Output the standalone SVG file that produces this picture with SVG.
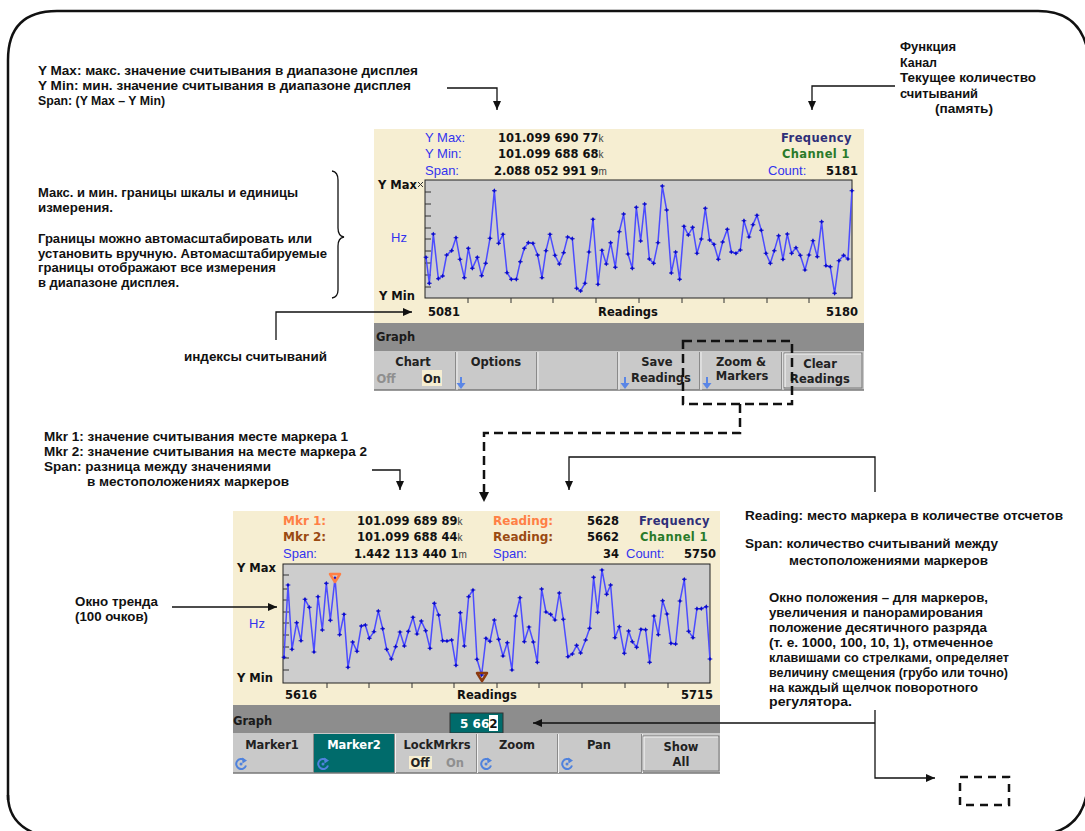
<svg xmlns="http://www.w3.org/2000/svg" width="1085" height="831" viewBox="0 0 1085 831">
<style>
.ann{font-family:"Liberation Sans",Arial,sans-serif;font-weight:bold;font-size:12px;fill:#111}
.sk{font-family:"DejaVu Sans",Verdana,sans-serif;font-weight:bold;font-size:11.5px;fill:#222;text-anchor:middle}
.val{font-family:"DejaVu Sans",Verdana,sans-serif;font-weight:bold;font-size:11.5px;fill:#111}
.lbl{font-family:"Liberation Sans",Arial,sans-serif;font-size:13px;fill:#3333ee}
.ord{font-family:"DejaVu Sans",Verdana,sans-serif;font-weight:bold;font-size:11.5px;fill:#111}
.suf{font-family:"Liberation Sans",Arial,sans-serif;font-size:10px;font-weight:normal;fill:#444}
.cream{fill:#f6eed2}
.plot{fill:#cdcdcd;stroke:#222;stroke-width:1}
.bar{fill:#8d8d8d}
.keys{fill:#c9c9c9}
.line{fill:none;stroke:#111;stroke-width:1.3}
.dash{fill:none;stroke:#111;stroke-width:2.5;stroke-dasharray:9 5}
.trace{fill:none;stroke:#4c4cff;stroke-width:4.5;stroke-linejoin:round;marker-start:url(#pt);marker-mid:url(#pt);marker-end:url(#pt)}
.tick{stroke:#333;stroke-width:1}
</style>
<defs>
<marker id="ah" markerUnits="userSpaceOnUse" markerWidth="10" markerHeight="10" refX="9" refY="5" viewBox="0 0 10 10" orient="auto">
<path d="M0,1 L9,5 L0,9 Z" fill="#111"/>
</marker>
<marker id="pt" markerUnits="userSpaceOnUse" markerWidth="16" markerHeight="16" refX="8" refY="8" viewBox="0 0 16 16">
<path d="M8,1 L12.5,8 L8,15 L3.5,8 Z M1,6.5 L15,6.5 L15,9.5 L1,9.5 Z" fill="#0a0acc"/>
</marker>
<g id="knob">
<path d="M3.5,-3.8 A5,5 0 1,0 5,1.5" fill="none" stroke="#4f82dd" stroke-width="2"/>
<path d="M1,-6.5 L6,-3.5 L1.5,-0.5 Z" fill="#4f82dd"/>
<circle cx="0" cy="0" r="1.5" fill="#4f82dd"/>
</g>
<g id="down">
<path d="M0,-9 L0,0" stroke="#5a86e6" stroke-width="2"/>
<path d="M-4.5,-3 L4.5,-3 L0,3 Z" fill="#5a86e6"/>
</g>
</defs>

<rect width="1085" height="831" fill="#ffffff"/>

<!-- outer frame -->
<g id="frame" fill="none" stroke="#111" stroke-width="2.5">
<path d="M8,800 L8,60 Q8,11 57,11 L1038,11 Q1078,11 1087,48"/>
<path d="M8,795 Q8,822 34,833"/>
<path d="M1087,792 Q1082,825 1052,833"/>
</g>

<!-- Screen 1 -->
<g id="screen1">
<rect class="cream" x="374" y="129" width="490" height="194"/>
<text class="lbl" x="425" y="142">Y Max:</text>
<text class="lbl" x="425" y="158">Y Min:</text>
<text class="lbl" x="425" y="175">Span:</text>
<text class="val" x="498" y="142">101.099 690 77<tspan class="suf">k</tspan></text>
<text class="val" x="498" y="158">101.099 688 68<tspan class="suf">k</tspan></text>
<text class="val" x="494" y="175">2.088 052 991 9<tspan class="suf">m</tspan></text>
<text class="val" x="852" y="142" text-anchor="end" style="fill:#2e2e78;letter-spacing:0.4px">Frequency</text>
<text class="val" x="850" y="158" text-anchor="end" style="fill:#2a7a2a;letter-spacing:0.4px">Channel 1</text>
<text class="lbl" x="768" y="175">Count:</text>
<text class="val" x="858" y="175" text-anchor="end">5181</text>
<rect class="plot" x="425" y="180" width="427" height="118"/>
<g class="tick">
<path d="M425,192 h6 M425,204 h6 M425,216 h6 M425,228 h6 M425,239 h6 M425,251 h6 M425,263 h6 M425,275 h6 M425,287 h6"/>
<path d="M468,298 v5 M511,298 v5 M553,298 v5 M596,298 v5 M639,298 v5 M682,298 v5 M724,298 v5 M767,298 v5 M809,298 v5"/>
<path d="M418,182 l5,5 M423,182 l-5,5"/>
</g>
<polyline class="trace" transform="matrix(0.3333 0 0 0.3333 370 180)" points="168,232 178,310 190,162 205,296 218,288 230,225 245,212 258,173 270,238 283,293 295,205 307,265 322,232 335,287 347,250 360,175 373,32 386,190 399,163 411,278 424,298 439,298 451,245 463,205 475,188 489,190 503,225 516,293 528,212 540,163 555,226 568,252 581,218 593,171 607,176 620,325 632,333 645,310 657,216 669,118 684,313 696,211 709,252 722,188 736,262 748,155 761,102 774,222 787,265 799,82 812,183 824,72 838,237 851,250 864,188 877,18 890,90 904,279 917,216 929,298 942,139 955,165 968,142 981,220 994,177 1006,85 1019,180 1032,193 1045,238 1058,186 1072,148 1084,216 1098,220 1111,210 1122,122 1137,171 1149,134 1161,106 1174,151 1188,220 1201,250 1213,212 1226,167 1239,238 1252,162 1265,220 1278,203 1291,226 1305,270 1317,225 1329,182 1342,230 1355,125 1368,257 1381,260 1394,340 1407,242 1421,226 1434,237 1446,32"/>
<text class="ord" x="378" y="189">Y Max</text>
<text class="ord" x="379" y="300">Y Min</text>
<text class="lbl" x="391" y="242">Hz</text>
<text class="ord" x="428" y="316">5081</text>
<text class="ord" x="628" y="316" text-anchor="middle">Readings</text>
<text class="ord" x="858" y="316" text-anchor="end">5180</text>
<rect class="bar" x="374" y="323" width="490" height="28"/>
<text class="ord" x="376" y="341" style="fill:#1a1a1a">Graph</text>
<rect class="keys" x="374" y="351" width="490" height="39"/>
<path d="M374,390 H864" stroke="#777" stroke-width="1.5"/>
<g stroke-width="1">
<path d="M455.5,352 V390 M536.5,352 V390 M617.5,352 V390 M699.5,352 V390 M781.5,352 V390" stroke="#8a8a8a"/>
<path d="M457,352 V390 M538,352 V390 M619,352 V390 M701,352 V390 M783,352 V390" stroke="#f2f2f2"/>
</g>
<rect x="784" y="353" width="78" height="35" fill="#c9c9c9" stroke="#777" stroke-width="1"/>
<path d="M785,387 V354 H861" fill="none" stroke="#f4f4f4" stroke-width="1.2"/>
<text class="sk" x="413" y="366">Chart</text>
<text class="sk" x="386" y="383" style="fill:#8f8f8f">Off</text>
<rect x="422" y="370" width="20" height="16" fill="#f6eed2"/>
<text class="sk" x="432" y="383">On</text>
<text class="sk" x="496" y="366">Options</text>
<use href="#down" x="461" y="386"/>
<text class="sk" x="657" y="366">Save</text>
<text class="sk" x="661" y="382">Readings</text>
<use href="#down" x="625" y="386"/>
<text class="sk" x="741" y="366">Zoom &amp;</text>
<text class="sk" x="742" y="380">Markers</text>
<use href="#down" x="707" y="386"/>
<text class="sk" x="820" y="368">Clear</text>
<text class="sk" x="820" y="383">Readings</text>
</g>

<!-- Screen 2 -->
<g id="screen2">
<rect class="cream" x="233" y="511" width="487" height="194"/>
<text class="val" x="283" y="525" style="fill:#ff7f45;font-size:12px">Mkr 1:</text>
<text class="val" x="283" y="541" style="fill:#9a4a12;font-size:12px">Mkr 2:</text>
<text class="lbl" x="283" y="558">Span:</text>
<text class="val" x="357" y="525">101.099 689 89<tspan class="suf">k</tspan></text>
<text class="val" x="357" y="541">101.099 688 44<tspan class="suf">k</tspan></text>
<text class="val" x="354" y="558">1.442 113 440 1<tspan class="suf">m</tspan></text>
<text class="val" x="493" y="525" style="fill:#ff7f45;font-size:12px">Reading:</text>
<text class="val" x="493" y="541" style="fill:#9a4a12;font-size:12px">Reading:</text>
<text class="lbl" x="493" y="558">Span:</text>
<text class="val" x="619" y="525" text-anchor="end">5628</text>
<text class="val" x="619" y="541" text-anchor="end">5662</text>
<text class="val" x="619" y="558" text-anchor="end">34</text>
<text class="val" x="710" y="525" text-anchor="end" style="fill:#2e2e78;letter-spacing:0.4px">Frequency</text>
<text class="val" x="708" y="541" text-anchor="end" style="fill:#2a7a2a;letter-spacing:0.4px">Channel 1</text>
<text class="lbl" x="626" y="558">Count:</text>
<text class="val" x="716" y="558" text-anchor="end">5750</text>
<rect class="plot" x="283" y="564" width="427" height="119"/>
<g class="tick">
<path d="M283,575 h6 M283,589 h6 M283,600 h6 M283,612 h6 M283,623 h6 M283,635 h6 M283,647 h6 M283,658 h6 M283,670 h6"/>
<path d="M327,683 v5 M369,683 v5 M412,683 v5 M454,683 v5 M497,683 v5 M539,683 v5 M582,683 v5 M625,683 v5 M668,683 v5"/>
</g>
<polyline class="trace" transform="matrix(0.3333 0 0 0.3333 230 560)" points="162,292 174,75 186,268 200,188 213,242 225,118 238,142 252,276 264,110 277,210 289,70 301,181 315,55 329,224 342,163 354,322 368,246 381,274 394,198 406,195 418,235 432,215 445,153 458,206 470,268 484,297 497,260 510,216 523,258 535,214 549,172 561,222 574,183 587,212 600,265 613,130 626,165 638,242 651,243 665,240 678,316 691,158 703,258 716,110 729,90 741,298 755,345 768,235 780,244 793,180 806,238 819,288 832,248 846,330 857,168 870,113 883,245 897,201 910,246 922,307 935,87 948,156 962,163 975,180 988,99 1000,178 1014,290 1027,282 1040,256 1052,279 1067,240 1079,205 1091,52 1103,157 1116,30 1130,103 1142,75 1155,233 1168,200 1183,280 1196,213 1207,245 1220,262 1233,208 1247,209 1259,307 1272,168 1285,224 1298,122 1311,162 1323,250 1337,252 1350,123 1363,58 1376,214 1389,233 1401,146 1414,146 1429,140 1440,297"/>
<path d="M330,574 L340,574 L335,582 Z" fill="none" stroke="#ff7f45" stroke-width="2.5" stroke-linejoin="round"/>
<path d="M477,673 L487,673 L482,681 Z" fill="none" stroke="#8b3a0f" stroke-width="2.5" stroke-linejoin="round"/>
<text class="ord" x="237" y="572">Y Max</text>
<text class="ord" x="237" y="682">Y Min</text>
<text class="lbl" x="249" y="628">Hz</text>
<text class="ord" x="285" y="699">5616</text>
<text class="ord" x="487" y="699" text-anchor="middle">Readings</text>
<text class="ord" x="713" y="699" text-anchor="end">5715</text>
<rect class="bar" x="233" y="705" width="487" height="28"/>
<text class="ord" x="233" y="725" style="fill:#1a1a1a">Graph</text>
<rect x="450" y="713" width="53" height="20" fill="#006b6b" stroke="#333" stroke-width="1"/>
<rect x="489" y="715" width="9" height="16" fill="#ffffff"/>
<text class="val" x="460" y="728" style="fill:#ffffff;font-size:12px">5 66<tspan style="fill:#111">2</tspan></text>
<rect class="keys" x="233" y="733" width="487" height="40"/>
<rect x="314" y="734" width="80" height="39" fill="#006b6b"/>
<path d="M233,773 H720" stroke="#777" stroke-width="1.5"/>
<g stroke-width="1">
<path d="M313.5,734 V773 M394.5,734 V773 M476.5,734 V773 M557.5,734 V773 M641.5,734 V773" stroke="#8a8a8a"/>
<path d="M395.5,734 V773 M477.5,734 V773 M558.5,734 V773 M642.5,734 V773" stroke="#f2f2f2"/>
</g>
<rect x="643" y="736" width="76" height="35" fill="#c9c9c9" stroke="#777" stroke-width="1"/>
<path d="M644,770 V737 H718" fill="none" stroke="#f4f4f4" stroke-width="1.2"/>
<text class="sk" x="272" y="749">Marker1</text>
<use href="#knob" x="241" y="764"/>
<text class="sk" x="354" y="749" style="fill:#ffffff">Marker2</text>
<use href="#knob" x="323" y="764"/>
<text class="sk" x="437" y="749">LockMrkrs</text>
<rect x="409" y="756" width="23" height="13" fill="#f6eed2"/>
<text class="sk" x="420" y="767">Off</text>
<text class="sk" x="455" y="767" style="fill:#8f8f8f">On</text>
<text class="sk" x="517" y="749">Zoom</text>
<use href="#knob" x="486" y="764"/>
<text class="sk" x="599" y="749">Pan</text>
<use href="#knob" x="567" y="764"/>
<text class="sk" x="681" y="751">Show</text>
<text class="sk" x="681" y="766">All</text>
</g>

<!-- Annotations -->
<g id="ann-top-left">
<text class="ann" x="38" y="75" textLength="380" lengthAdjust="spacingAndGlyphs">Y Max: макс. значение считывания в диапазоне дисплея</text>
<text class="ann" x="38" y="90" textLength="373" lengthAdjust="spacingAndGlyphs">Y Min: мин. значение считывания в диапазоне дисплея</text>
<text class="ann" x="38" y="105" textLength="127" lengthAdjust="spacingAndGlyphs">Span: (Y Max – Y Min)</text>
</g>
<g id="ann-top-right">
<text class="ann" x="900" y="51" textLength="56" lengthAdjust="spacingAndGlyphs">Функция</text>
<text class="ann" x="900" y="67" textLength="37" lengthAdjust="spacingAndGlyphs">Канал</text>
<text class="ann" x="900" y="82" textLength="136" lengthAdjust="spacingAndGlyphs">Текущее количество</text>
<text class="ann" x="900" y="98" textLength="78" lengthAdjust="spacingAndGlyphs">считываний</text>
<text class="ann" x="935" y="113" textLength="58" lengthAdjust="spacingAndGlyphs">(память)</text>
</g>
<g id="ann-scale">
<text class="ann" x="38" y="197" textLength="260" lengthAdjust="spacingAndGlyphs">Макс. и мин. границы шкалы и единицы</text>
<text class="ann" x="38" y="212" textLength="75" lengthAdjust="spacingAndGlyphs">измерения.</text>
<text class="ann" x="38" y="243" textLength="274" lengthAdjust="spacingAndGlyphs">Границы можно автомасштабировать или</text>
<text class="ann" x="38" y="258" textLength="289" lengthAdjust="spacingAndGlyphs">установить вручную. Автомасштабируемые</text>
<text class="ann" x="38" y="272" textLength="238" lengthAdjust="spacingAndGlyphs">границы отображают все измерения</text>
<text class="ann" x="38" y="287" textLength="141" lengthAdjust="spacingAndGlyphs">в диапазоне дисплея.</text>
<path d="M332,171 Q338,172 338,180 L338,228 Q338,236 344,237 Q338,238 338,246 L338,290 Q338,297 332,298" fill="none" stroke="#111" stroke-width="1.3"/>
</g>
<g id="ann-index">
<text class="ann" x="184" y="361" textLength="143" lengthAdjust="spacingAndGlyphs">индексы считываний</text>
</g>
<g id="ann-markers">
<text class="ann" x="44" y="441" textLength="304" lengthAdjust="spacingAndGlyphs">Mkr 1: значение считывания месте маркера 1</text>
<text class="ann" x="44" y="456" textLength="323" lengthAdjust="spacingAndGlyphs">Mkr 2: значение считывания на месте маркера 2</text>
<text class="ann" x="44" y="471" textLength="227" lengthAdjust="spacingAndGlyphs">Span: разница между значениями</text>
<text class="ann" x="87" y="486" textLength="202" lengthAdjust="spacingAndGlyphs">в местоположениях маркеров</text>
</g>
<g id="ann-trend">
<text class="ann" x="75" y="606" textLength="83" lengthAdjust="spacingAndGlyphs">Окно тренда</text>
<text class="ann" x="75" y="621" textLength="73" lengthAdjust="spacingAndGlyphs">(100 очков)</text>
</g>
<g id="ann-reading">
<text class="ann" x="745" y="520" textLength="318" lengthAdjust="spacingAndGlyphs">Reading: место маркера в количестве отсчетов</text>
<text class="ann" x="745" y="548" textLength="253" lengthAdjust="spacingAndGlyphs">Span: количество считываний между</text>
<text class="ann" x="789" y="565" textLength="199" lengthAdjust="spacingAndGlyphs">местоположениями маркеров</text>
</g>
<g id="ann-position">
<text class="ann" x="769" y="602" textLength="219" lengthAdjust="spacingAndGlyphs">Окно положения – для маркеров,</text>
<text class="ann" x="769" y="617" textLength="214" lengthAdjust="spacingAndGlyphs">увеличения и панорамирования</text>
<text class="ann" x="769" y="632" textLength="218" lengthAdjust="spacingAndGlyphs">положение десятичного разряда</text>
<text class="ann" x="769" y="647" textLength="224" lengthAdjust="spacingAndGlyphs">(т. е. 1000, 100, 10, 1), отмеченное</text>
<text class="ann" x="769" y="662" textLength="240" lengthAdjust="spacingAndGlyphs">клавишами со стрелками, определяет</text>
<text class="ann" x="769" y="677" textLength="239" lengthAdjust="spacingAndGlyphs">величину смещения (грубо или точно)</text>
<text class="ann" x="769" y="692" textLength="209" lengthAdjust="spacingAndGlyphs">на каждый щелчок поворотного</text>
<text class="ann" x="769" y="706" textLength="83" lengthAdjust="spacingAndGlyphs">регулятора.</text>
</g>
<g id="dashed-boxes">
<rect class="dash" x="683" y="341" width="109" height="63"/>
<rect class="dash" x="960" y="777" width="49" height="28" style="stroke-dasharray:8 6"/>
</g>

<!-- connectors -->
<g id="connectors">
<path class="line" d="M447,88 H497 V110" marker-end="url(#ah)"/>
<path class="line" d="M895,86 H812 V110" marker-end="url(#ah)"/>
<path class="line" d="M276,340 V312 H412" marker-end="url(#ah)"/>
<path class="line" d="M372,470 H400 V490" marker-end="url(#ah)"/>
<path class="dash" d="M740,404 V433 H484 V494"/>
<path d="M479,492 L489,492 L484,502 Z" fill="#111"/>
<path class="line" d="M875,492 V457 H569 V490" marker-end="url(#ah)"/>
<path class="line" d="M172,607 H277" marker-end="url(#ah)"/>
<path class="line" d="M875,723 H533" marker-end="url(#ah)"/>
<path class="line" d="M875,710 V778 H935" marker-end="url(#ah)"/>
</g>
</svg>
